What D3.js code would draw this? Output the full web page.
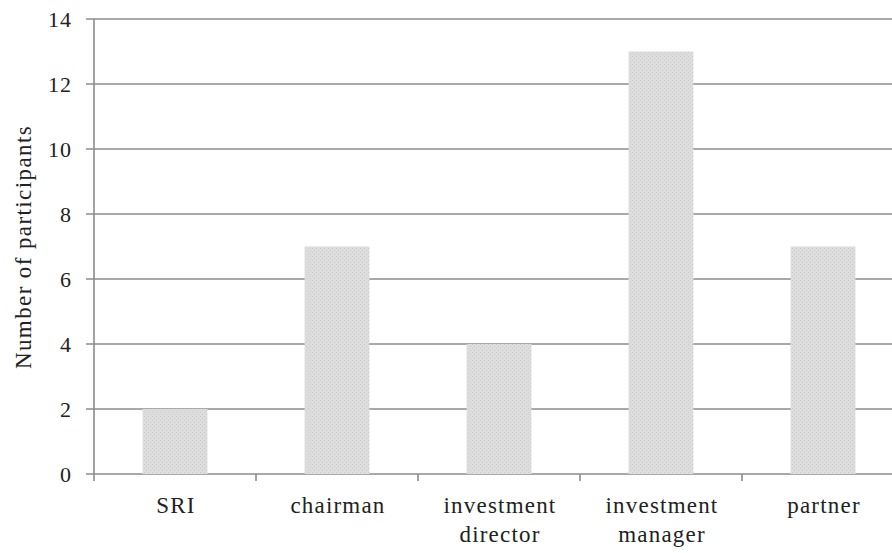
<!DOCTYPE html>
<html>
<head>
<meta charset="utf-8">
<script src="https://cdn.jsdelivr.net/npm/d3@7"></script>
<style>
  body { margin: 0; background: #fff; }
</style>
</head>
<body>
<script>
// chart data
var categories = ["SRI", "chairman", "investment director", "investment manager", "partner"];
var participants = [2, 7, 4, 13, 7];
var yTicks = [0, 2, 4, 6, 8, 10, 12, 14];

var width = 892, height = 553;
var plotLeft = 94, plotTop = 19, plotBottom = 474, plotRight = 904;
var serif = "'Times New Roman', 'Liberation Serif', Tinos, 'DejaVu Serif', serif";

var svg = d3.select("body").append("svg")
    .attr("width", width)
    .attr("height", height)
    .attr("font-family", serif);

var x = d3.scaleBand()
    .domain(categories)
    .range([plotLeft, plotRight])
    .paddingInner(0.6)
    .paddingOuter(0.3);

var y = d3.scaleLinear()
    .domain([0, 14])
    .range([plotBottom, plotTop]);

// gridlines
svg.append("g")
  .selectAll("line")
  .data(yTicks)
  .enter().append("line")
    .attr("x1", plotLeft - 8)
    .attr("x2", width)
    .attr("y1", function(d) { return y(d); })
    .attr("y2", function(d) { return y(d); })
    .attr("stroke", "#8c8c8c")
    .attr("stroke-width", 1.6);

// bar texture
var defs = svg.append("defs");
var pat = defs.append("pattern")
    .attr("id", "dots")
    .attr("width", 4).attr("height", 4)
    .attr("patternUnits", "userSpaceOnUse");
pat.append("rect").attr("width", 4).attr("height", 4).attr("fill", "#dddddd");
pat.append("rect").attr("x", 0).attr("y", 0).attr("width", 1).attr("height", 1).attr("fill", "#cacaca");
pat.append("rect").attr("x", 2).attr("y", 2).attr("width", 1).attr("height", 1).attr("fill", "#cacaca");

// bars
svg.append("g")
  .selectAll("rect")
  .data(participants)
  .enter().append("rect")
    .attr("x", function(d, i) { return x(categories[i]); })
    .attr("width", x.bandwidth())
    .attr("y", function(d) { return y(d); })
    .attr("height", function(d) { return y(0) - y(d); })
    .attr("fill", "url(#dots)");

// y axis line
svg.append("line")
    .attr("x1", plotLeft).attr("x2", plotLeft)
    .attr("y1", plotTop).attr("y2", plotBottom + 7)
    .attr("stroke", "#8c8c8c")
    .attr("stroke-width", 1.6);

// x axis ticks between the bands
var gap = (x.step() - x.bandwidth()) / 2;
svg.append("g")
  .selectAll("line")
  .data(categories.slice(1))
  .enter().append("line")
    .attr("x1", function(d) { return x(d) - gap; })
    .attr("x2", function(d) { return x(d) - gap; })
    .attr("y1", plotBottom).attr("y2", plotBottom + 7)
    .attr("stroke", "#8c8c8c")
    .attr("stroke-width", 1.6);

// y tick labels
svg.append("g")
  .selectAll("text")
  .data(yTicks)
  .enter().append("text")
    .attr("x", 72)
    .attr("y", function(d) { return y(d); })
    .attr("dy", "0.36em")
    .attr("text-anchor", "end")
    .attr("font-size", 22)
    .attr("letter-spacing", 1)
    .attr("fill", "#222")
    .text(function(d) { return d; });

// x labels, wrapped on the space
var xl = svg.append("g")
  .selectAll("text")
  .data(categories)
  .enter().append("text")
    .attr("x", function(d) { return x(d) + x.bandwidth() / 2 + 1; })
    .attr("y", 513)
    .attr("text-anchor", "middle")
    .attr("font-size", 23)
    .attr("letter-spacing", 1.2)
    .attr("fill", "#222");

xl.selectAll("tspan")
  .data(function(d) { return d.split(" "); })
  .enter().append("tspan")
    .attr("x", function() { return d3.select(this.parentNode).attr("x"); })
    .attr("dy", function(d, i) { return i ? 29 : 0; })
    .text(function(d) { return d; });

// y title
svg.append("text")
    .attr("transform", "translate(31,247) rotate(-90)")
    .attr("text-anchor", "middle")
    .attr("font-size", 23)
    .attr("letter-spacing", 1.4)
    .attr("fill", "#222")
    .text("Number of participants");
</script>
</body>
</html>
